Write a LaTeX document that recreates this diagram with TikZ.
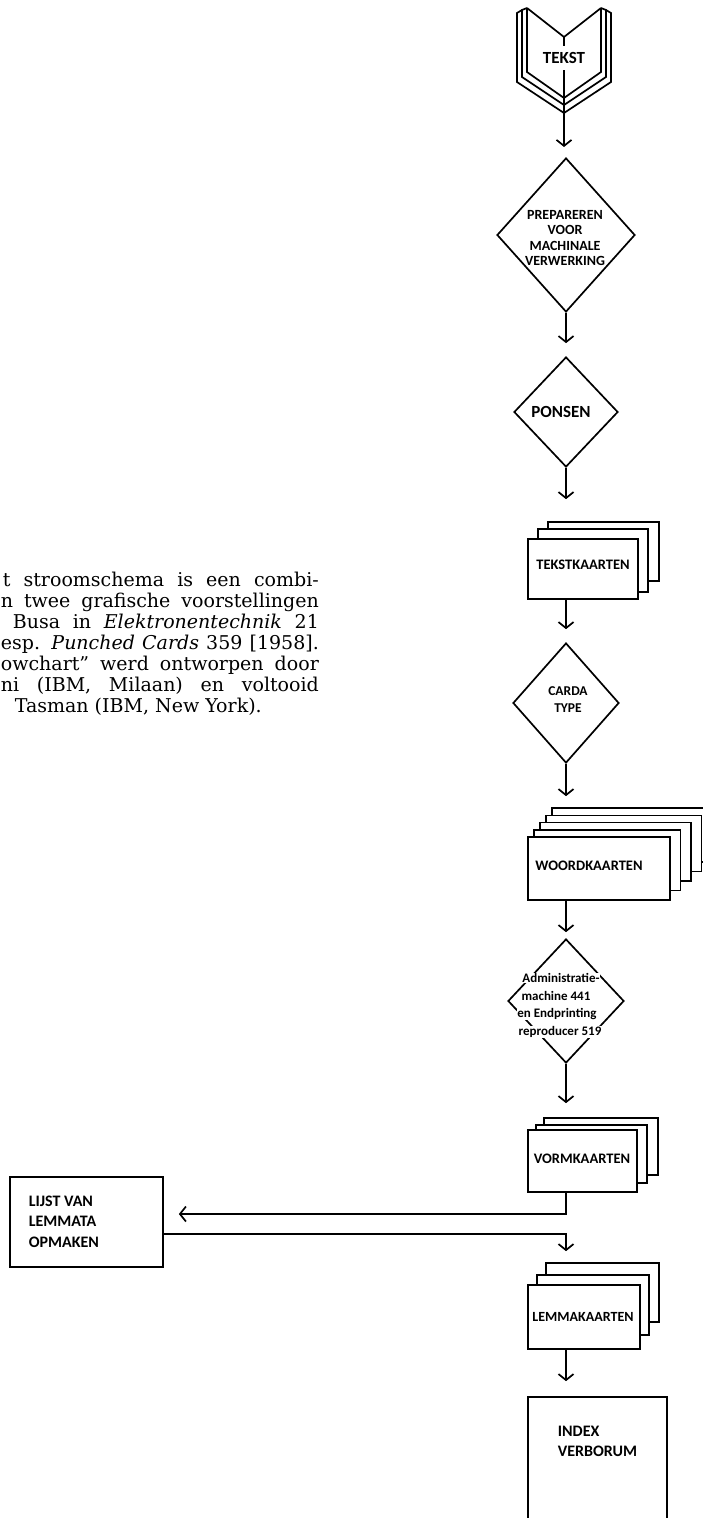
\documentclass[tikz,border=0pt]{standalone}
\usepackage{fontspec}
\setmainfont{DejaVu Serif}
\newfontfamily\lab{Carlito}
\usetikzlibrary{arrows.meta,shapes.geometric}
\begin{document}
\begin{tikzpicture}[x=1pt,y=-1pt,line width=1.7pt,line join=miter,
  arr/.style={-{Straight Barb[length=6pt,width=15pt]}},
  lbl/.style={font=\lab\bfseries\fontsize{14.5}{17}\selectfont,inner sep=0pt},
  small/.style={font=\lab\bfseries\fontsize{13}{15}\selectfont,inner sep=0.8pt,fill=white},
  para/.style={font=\fontsize{19}{21}\selectfont,inner sep=0pt,anchor=base west},
  diam/.style={draw,diamond,inner sep=0pt},
  card/.style={draw,fill=white},
  frontcard/.style={draw,fill=white,inner sep=0pt}]
\useasboundingbox (0,0) rectangle (702,1518);

% ---------- paragraph ----------
\node[para] (p1) at (2,586)   {\makebox[316pt][s]{t stroomschema is een combi-}};
\node[para] (p2) at (0,607)   {\makebox[318pt][s]{n twee grafische voorstellingen}};
\node[para] (p3) at (12,628)  {\makebox[306pt][s]{Busa in \textit{Elektronentechnik} 21}};
\node[para] (p4) at (0,649)   {\makebox[318pt][s]{esp. \textit{Punched Cards} 359 [1958].}};
\node[para] (p5) at (0,670)   {\makebox[318pt][s]{owchart'' werd ontworpen door}};
\node[para] (p6) at (0,691)   {\makebox[318pt][s]{ni (IBM, Milaan) en voltooid}};
\node[para] (p7) at (14,712)  {Tasman (IBM, New York).};

% ---------- book ----------
\draw (527,8) -- (564,37) -- (601,8);
\draw (527,8) -- (527,72) -- (564,98) -- (601,72) -- (601,8);
\draw (527,8) -- (522,10) -- (522,77) -- (564,105) -- (606,77) -- (606,10) -- (601,8);
\draw (522,10) -- (517,13) -- (517,82) -- (564,113) -- (611,82) -- (611,13) -- (606,10);
\coordinate (spinetop) at (564,37);
\node[lbl,font=\lab\bfseries\fontsize{17}{19}\selectfont] (tekst) at (564,58) {TEKST};
\draw (spinetop) -- (564,46);
\coordinate (bookbot) at (564,70);

% ---------- diamonds ----------
\node[diam,minimum width=138pt,minimum height=154pt] (d1) at (566,235) {};
\node[lbl,align=center,font=\lab\bfseries\fontsize{14}{15.5}\selectfont] (t1) at (565,238)
  {PREPAREREN\\VOOR\\MACHINALE\\VERWERKING};
\node[diam,minimum width=104pt,minimum height=110pt] (d2) at (566,412) {};
\node[lbl,font=\lab\bfseries\fontsize{17}{19}\selectfont] (t2) at (561,412) {PONSEN};

% ---------- TEKSTKAARTEN ----------
\draw[card] (548,522) rectangle (659,581);
\draw[card] (538,529) rectangle (648,592);
\node[frontcard,minimum width=110pt,minimum height=60pt] (tk) at (583,569) {};
\node[lbl] (tkt) at (583,565) {TEKSTKAARTEN};

\node[diam,minimum width=106pt,minimum height=120pt] (d3) at (566,703) {};
\node[lbl,align=center,font=\lab\bfseries\fontsize{13.5}{17}\selectfont] (t3) at (568,700) {CARDA\\TYPE};

% ---------- WOORDKAARTEN ----------
\foreach \k in {4,3,2,1}{
  \draw[card] ({528+6*\k},{837-7.2*\k}) rectangle ({670+10.5*\k},{900-9.5*\k});
}
\node[frontcard,minimum width=142pt,minimum height=63pt] (wk) at (599,868.5) {};
\node[lbl] (wkt) at (589,866) {WOORDKAARTEN};

% ---------- administration diamond ----------
\node[diam,minimum width=116pt,minimum height=124pt] (d4) at (566,1001) {};
\node[small] (a1) at (561,978)  {Administratie-};
\node[small] (a2) at (556,996)  {machine 441};
\node[small] (a3) at (557,1014) {en Endprinting};
\node[small] (a4) at (560,1032) {reproducer 519};

% ---------- VORMKAARTEN ----------
\draw[card] (544,1118) rectangle (658,1175);
\draw[card] (536,1125) rectangle (647,1183);
\node[frontcard,minimum width=109pt,minimum height=62pt] (vk) at (582.5,1161) {};
\node[lbl] (vkt) at (582,1159) {VORMKAARTEN};

% ---------- LIJST VAN LEMMATA OPMAKEN ----------
\node[draw,minimum width=153pt,minimum height=90pt,inner sep=0pt] (lijst) at (86.5,1222) {};
\node[lbl,align=left,anchor=north west,font=\lab\bfseries\fontsize{16}{20.5}\selectfont] (lt) at (28,1195)
  {LIJST VAN\\LEMMATA\\OPMAKEN};

% ---------- LEMMAKAARTEN ----------
\draw[card] (546,1263) rectangle (659,1322);
\draw[card] (537,1275) rectangle (649,1335);
\node[frontcard,minimum width=112pt,minimum height=64pt] (lk) at (584,1317) {};
\node[lbl,font=\lab\bfseries\fontsize{14}{17}\selectfont] (lkt) at (583,1317) {LEMMAKAARTEN};

% ---------- INDEX VERBORUM ----------
\node[draw,minimum width=139pt,minimum height=150pt,inner sep=0pt] (ix) at (597.5,1472) {};
\node[lbl,align=left,anchor=north west,font=\lab\bfseries\fontsize{16}{20}\selectfont] (ixt) at (557,1425)
  {INDEX\\VERBORUM};

% ---------- connectors ----------
\draw[arr] (bookbot) -- (564,147);
\draw[arr,shorten >=13pt] (d1.south) -- (d1.south |- d2.north);
\draw[arr,shorten >=39pt] (d2.south) -- (d2.south |- tk.north);
\draw[arr,shorten >=13pt] (tk.south -| d3.south) -- (d3.north);
\draw[arr,shorten >=40pt] (d3.south) -- (d3.south |- wk.north);
\draw[arr,shorten >=6pt] (wk.south -| d4.north) -- (d4.north);
\draw[arr,shorten >=26pt] (d4.south) -- (d4.south |- vk.north);
\draw[arr,shorten >=15pt] (vk.south -| d4.south) |- ([yshift=8pt]lijst.east);
\draw[arr,shorten >=33pt] ([yshift=-12pt]lijst.east) -| (d4.south |- lk.north);
\draw[arr,shorten >=15pt] (lk.south -| d4.south) -- (d4.south |- ix.north);
\end{tikzpicture}
\end{document}
